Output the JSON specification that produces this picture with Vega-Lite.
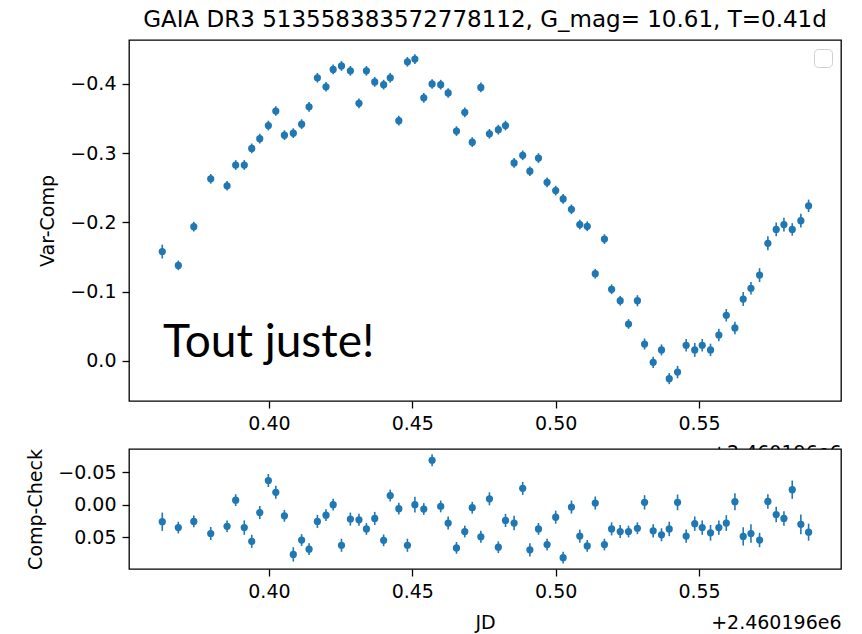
{
  "$schema": "https://vega.github.io/schema/vega-lite/v6.json",
  "background": "white",
  "padding": {"left": 26, "top": 8, "right": 20, "bottom": 5},
  "spacing": 48,
  "bounds": "flush",
  "config": {
    "view": {"stroke": "#000000", "strokeWidth": 1.3, "fill": "white"},
    "axis": {
      "grid": false, "domain": false,
      "tickColor": "#000000", "tickSize": 7, "tickWidth": 1.3,
      "labelFont": "DejaVu Sans", "labelFontSize": 19, "labelColor": "#000000", "labelPadding": 6,
      "titleFont": "DejaVu Sans", "titleFontSize": 19, "titleFontWeight": "normal", "titleColor": "#000000"
    }
  },
  "resolve": {"scale": {"color": "independent"}, "legend": {"color": "independent"}},
  "datasets": {
    "obs": [
      {"jd": 0.3628, "var": -0.158, "var_err": 0.010, "cc": 0.026, "cc_err": 0.014},
      {"jd": 0.3684, "var": -0.138, "var_err": 0.007, "cc": 0.035, "cc_err": 0.009},
      {"jd": 0.3738, "var": -0.194, "var_err": 0.007, "cc": 0.0255, "cc_err": 0.009},
      {"jd": 0.3797, "var": -0.263, "var_err": 0.007, "cc": 0.044, "cc_err": 0.010},
      {"jd": 0.3854, "var": -0.253, "var_err": 0.007, "cc": 0.033, "cc_err": 0.009},
      {"jd": 0.3884, "var": -0.283, "var_err": 0.007, "cc": -0.007, "cc_err": 0.009},
      {"jd": 0.3914, "var": -0.283, "var_err": 0.007, "cc": 0.035, "cc_err": 0.011},
      {"jd": 0.3940, "var": -0.307, "var_err": 0.007, "cc": 0.056, "cc_err": 0.010},
      {"jd": 0.3968, "var": -0.321, "var_err": 0.007, "cc": 0.012, "cc_err": 0.010},
      {"jd": 0.3998, "var": -0.340, "var_err": 0.007, "cc": -0.037, "cc_err": 0.010},
      {"jd": 0.4024, "var": -0.361, "var_err": 0.007, "cc": -0.019, "cc_err": 0.010},
      {"jd": 0.4054, "var": -0.326, "var_err": 0.007, "cc": 0.017, "cc_err": 0.009},
      {"jd": 0.4085, "var": -0.329, "var_err": 0.007, "cc": 0.076, "cc_err": 0.011},
      {"jd": 0.4114, "var": -0.342, "var_err": 0.007, "cc": 0.054, "cc_err": 0.009},
      {"jd": 0.4140, "var": -0.367, "var_err": 0.007, "cc": 0.068, "cc_err": 0.009},
      {"jd": 0.4169, "var": -0.409, "var_err": 0.007, "cc": 0.0255, "cc_err": 0.010},
      {"jd": 0.4199, "var": -0.396, "var_err": 0.007, "cc": 0.016, "cc_err": 0.009},
      {"jd": 0.4224, "var": -0.421, "var_err": 0.007, "cc": 0.0, "cc_err": 0.009},
      {"jd": 0.4253, "var": -0.426, "var_err": 0.007, "cc": 0.062, "cc_err": 0.010},
      {"jd": 0.4284, "var": -0.419, "var_err": 0.007, "cc": 0.022, "cc_err": 0.010},
      {"jd": 0.4314, "var": -0.372, "var_err": 0.007, "cc": 0.023, "cc_err": 0.009},
      {"jd": 0.4340, "var": -0.419, "var_err": 0.007, "cc": 0.037, "cc_err": 0.009},
      {"jd": 0.4369, "var": -0.403, "var_err": 0.007, "cc": 0.021, "cc_err": 0.010},
      {"jd": 0.4400, "var": -0.399, "var_err": 0.007, "cc": 0.0545, "cc_err": 0.009},
      {"jd": 0.4423, "var": -0.409, "var_err": 0.007, "cc": -0.014, "cc_err": 0.009},
      {"jd": 0.4453, "var": -0.347, "var_err": 0.007, "cc": 0.006, "cc_err": 0.009},
      {"jd": 0.4483, "var": -0.432, "var_err": 0.007, "cc": 0.062, "cc_err": 0.010},
      {"jd": 0.4509, "var": -0.436, "var_err": 0.007, "cc": 0.0, "cc_err": 0.012},
      {"jd": 0.4540, "var": -0.380, "var_err": 0.007, "cc": 0.0066, "cc_err": 0.009},
      {"jd": 0.4569, "var": -0.400, "var_err": 0.007, "cc": -0.068, "cc_err": 0.009},
      {"jd": 0.4599, "var": -0.399, "var_err": 0.007, "cc": 0.0026, "cc_err": 0.009},
      {"jd": 0.4625, "var": -0.387, "var_err": 0.007, "cc": 0.028, "cc_err": 0.010},
      {"jd": 0.4654, "var": -0.332, "var_err": 0.007, "cc": 0.066, "cc_err": 0.009},
      {"jd": 0.4683, "var": -0.359, "var_err": 0.007, "cc": 0.041, "cc_err": 0.009},
      {"jd": 0.4709, "var": -0.316, "var_err": 0.007, "cc": 0.0046, "cc_err": 0.009},
      {"jd": 0.4739, "var": -0.395, "var_err": 0.007, "cc": 0.049, "cc_err": 0.009},
      {"jd": 0.4769, "var": -0.328, "var_err": 0.007, "cc": -0.009, "cc_err": 0.010},
      {"jd": 0.4800, "var": -0.334, "var_err": 0.007, "cc": 0.065, "cc_err": 0.009},
      {"jd": 0.4825, "var": -0.340, "var_err": 0.007, "cc": 0.024, "cc_err": 0.010},
      {"jd": 0.4855, "var": -0.286, "var_err": 0.007, "cc": 0.028, "cc_err": 0.011},
      {"jd": 0.4885, "var": -0.297, "var_err": 0.007, "cc": -0.025, "cc_err": 0.010},
      {"jd": 0.4910, "var": -0.274, "var_err": 0.007, "cc": 0.069, "cc_err": 0.010},
      {"jd": 0.4940, "var": -0.293, "var_err": 0.007, "cc": 0.037, "cc_err": 0.009},
      {"jd": 0.4970, "var": -0.258, "var_err": 0.007, "cc": 0.061, "cc_err": 0.009},
      {"jd": 0.5000, "var": -0.246, "var_err": 0.007, "cc": 0.019, "cc_err": 0.010},
      {"jd": 0.5026, "var": -0.234, "var_err": 0.007, "cc": 0.081, "cc_err": 0.009},
      {"jd": 0.5055, "var": -0.219, "var_err": 0.007, "cc": 0.0036, "cc_err": 0.010},
      {"jd": 0.5084, "var": -0.197, "var_err": 0.007, "cc": 0.048, "cc_err": 0.010},
      {"jd": 0.5110, "var": -0.1945, "var_err": 0.007, "cc": 0.063, "cc_err": 0.009},
      {"jd": 0.5138, "var": -0.126, "var_err": 0.007, "cc": -0.0026, "cc_err": 0.010},
      {"jd": 0.5170, "var": -0.176, "var_err": 0.007, "cc": 0.061, "cc_err": 0.009},
      {"jd": 0.5195, "var": -0.1035, "var_err": 0.007, "cc": 0.037, "cc_err": 0.010},
      {"jd": 0.5225, "var": -0.087, "var_err": 0.007, "cc": 0.041, "cc_err": 0.010},
      {"jd": 0.5254, "var": -0.0534, "var_err": 0.007, "cc": 0.041, "cc_err": 0.009},
      {"jd": 0.5285, "var": -0.087, "var_err": 0.008, "cc": 0.036, "cc_err": 0.009},
      {"jd": 0.5310, "var": -0.0245, "var_err": 0.008, "cc": -0.0036, "cc_err": 0.011},
      {"jd": 0.5340, "var": 0.002, "var_err": 0.008, "cc": 0.040, "cc_err": 0.010},
      {"jd": 0.5369, "var": -0.016, "var_err": 0.008, "cc": 0.046, "cc_err": 0.010},
      {"jd": 0.5396, "var": 0.0255, "var_err": 0.008, "cc": 0.037, "cc_err": 0.011},
      {"jd": 0.5425, "var": 0.016, "var_err": 0.009, "cc": -0.0036, "cc_err": 0.012},
      {"jd": 0.5455, "var": -0.0227, "var_err": 0.009, "cc": 0.048, "cc_err": 0.010},
      {"jd": 0.5485, "var": -0.016, "var_err": 0.010, "cc": 0.029, "cc_err": 0.011},
      {"jd": 0.5511, "var": -0.0227, "var_err": 0.009, "cc": 0.035, "cc_err": 0.011},
      {"jd": 0.5540, "var": -0.016, "var_err": 0.009, "cc": 0.043, "cc_err": 0.012},
      {"jd": 0.5569, "var": -0.0375, "var_err": 0.009, "cc": 0.035, "cc_err": 0.011},
      {"jd": 0.5595, "var": -0.066, "var_err": 0.009, "cc": 0.028, "cc_err": 0.012},
      {"jd": 0.5625, "var": -0.0477, "var_err": 0.009, "cc": -0.0046, "cc_err": 0.013},
      {"jd": 0.5654, "var": -0.0895, "var_err": 0.010, "cc": 0.0485, "cc_err": 0.014},
      {"jd": 0.5681, "var": -0.105, "var_err": 0.009, "cc": 0.044, "cc_err": 0.014},
      {"jd": 0.5711, "var": -0.124, "var_err": 0.010, "cc": 0.054, "cc_err": 0.011},
      {"jd": 0.5740, "var": -0.170, "var_err": 0.010, "cc": -0.005, "cc_err": 0.011},
      {"jd": 0.5769, "var": -0.190, "var_err": 0.010, "cc": 0.015, "cc_err": 0.012},
      {"jd": 0.5796, "var": -0.197, "var_err": 0.010, "cc": 0.021, "cc_err": 0.011},
      {"jd": 0.5825, "var": -0.190, "var_err": 0.009, "cc": -0.023, "cc_err": 0.014},
      {"jd": 0.5855, "var": -0.2026, "var_err": 0.010, "cc": 0.030, "cc_err": 0.015},
      {"jd": 0.5882, "var": -0.224, "var_err": 0.009, "cc": 0.042, "cc_err": 0.013}
    ]
  },
  "vconcat": [
    {
      "width": 712,
      "height": 361,
      "title": {"text": "GAIA DR3 513558383572778112, G_mag= 10.61, T=0.41d", "font": "DejaVu Sans", "fontSize": 23, "fontWeight": "normal", "color": "#000000", "anchor": "middle", "offset": 8},
      "layer": [
        {
          "data": {"name": "obs"},
          "mark": {"type": "errorbar", "color": "#1f77b4", "thickness": 1.6},
          "encoding": {
            "x": {"field": "jd", "type": "quantitative", "scale": {"domain": [0.3512, 0.5995], "nice": false, "zero": false},
                  "axis": {"values": [0.40, 0.45, 0.50, 0.55], "format": ".2f", "title": "+2.460196e6", "titleAnchor": "end", "titlePadding": 10}},
            "y": {"field": "var", "type": "quantitative", "scale": {"domain": [-0.4635, 0.0578], "nice": false, "zero": false, "reverse": true},
                  "axis": {"values": [-0.4, -0.3, -0.2, -0.1, 0.0], "format": ".1f", "title": "Var-Comp", "titlePadding": 12}},
            "yError": {"field": "var_err"}
          }
        },
        {
          "data": {"name": "obs"},
          "mark": {"type": "circle", "size": 52, "opacity": 1},
          "encoding": {
            "x": {"field": "jd", "type": "quantitative"},
            "y": {"field": "var", "type": "quantitative"},
            "color": {"datum": "obs", "scale": {"range": ["#1f77b4"]},
                      "legend": {"title": null, "orient": "top-right", "offset": 9, "labelExpr": "''", "symbolOpacity": 0, "symbolSize": 40, "padding": 5, "strokeColor": "#d0d0d0", "fillColor": "white", "cornerRadius": 4, "labelFontSize": 1, "labelOffset": 0}}
          }
        },
        {
          "data": {"values": [{}]},
          "mark": {"type": "text", "text": "Tout juste!", "font": "Lato", "fontSize": 46, "align": "left", "baseline": "alphabetic", "color": "#000000"},
          "encoding": {
            "x": {"datum": 0.3631, "type": "quantitative"},
            "y": {"datum": -0.006, "type": "quantitative"}
          }
        }
      ]
    },
    {
      "width": 712,
      "height": 120,
      "data": {"name": "obs"},
      "resolve": {"axis": {"x": "independent"}},
      "layer": [
        {
          "mark": {"type": "errorbar", "color": "#1f77b4", "thickness": 1.6},
          "encoding": {
            "x": {"field": "jd", "type": "quantitative", "scale": {"domain": [0.3512, 0.5995], "nice": false, "zero": false},
                  "axis": {"values": [0.40, 0.45, 0.50, 0.55], "format": ".2f", "title": "JD", "titlePadding": 12}},
            "y": {"field": "cc", "type": "quantitative", "scale": {"domain": [-0.0852, 0.0983], "nice": false, "zero": false, "reverse": true},
                  "axis": {"values": [-0.05, 0.0, 0.05], "format": ".2f", "title": "Comp-Check", "titlePadding": 12}},
            "yError": {"field": "cc_err"}
          }
        },
        {
          "mark": {"type": "circle", "size": 52, "opacity": 1, "color": "#1f77b4"},
          "encoding": {
            "x": {"field": "jd", "type": "quantitative",
                  "axis": {"orient": "bottom", "values": [0.40, 0.45, 0.50, 0.55], "format": ".2f", "labelOpacity": 0, "tickOpacity": 0, "title": "+2.460196e6", "titleAnchor": "end", "titlePadding": 12}},
            "y": {"field": "cc", "type": "quantitative"}
          }
        }
      ]
    }
  ]
}
